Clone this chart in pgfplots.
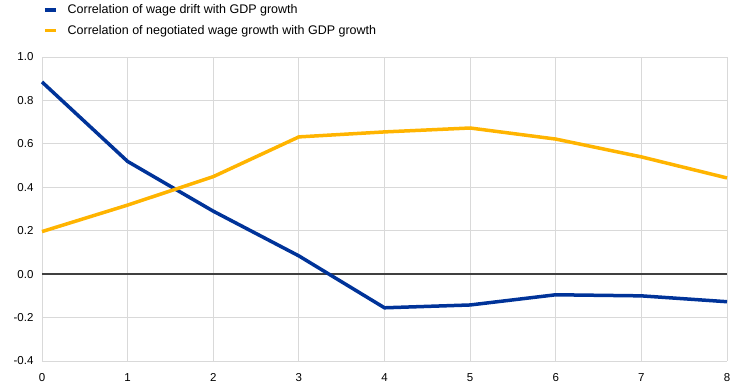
\documentclass[border=0pt]{standalone}
\usepackage{pgfplots}
\pgfplotsset{compat=1.18}
\usepackage{fontspec}
\setmainfont{Liberation Sans}
\definecolor{ecbblue}{HTML}{003399}
\definecolor{ecbyellow}{HTML}{FFB400}
\definecolor{gridgray}{HTML}{D9D9D9}
\definecolor{zerogray}{HTML}{404040}
\begin{document}
\begin{tikzpicture}[x=1pt,y=1pt]
\path[use as bounding box] (0,0) rectangle (744,390);
\begin{axis}[
  at={(42pt,29pt)}, anchor=south west,
  scale only axis, width=685pt, height=304pt,
  xmin=0, xmax=8, ymin=-0.4, ymax=1.0,
  xtick={0,...,8}, ytick={-0.4,-0.2,0,0.2,0.4,0.6,0.8,1.0},
  yticklabel style={/pgf/number format/fixed, /pgf/number format/fixed zerofill, /pgf/number format/precision=1, xshift=-5pt},
  /pgf/number format/assume math mode=true,
  ticklabel style={font=\fontsize{11.5}{13}\selectfont, text=black},
  grid=major, major grid style={gridgray, line width=0.8pt},
  axis line style={draw=none},
  tick style={draw=none},
  xticklabel style={yshift=-9pt},
  legend style={at={(0,1)}, anchor=south west, xshift=-2pt, yshift=17pt,
    draw=none, fill=none, font=\fontsize{12.5}{14}\selectfont,
    row sep=6pt, legend cell align=left},
  legend image code/.code={\draw[#1, line width=3.5pt] (0pt,0pt) -- (11pt,0pt); \path (19pt,0pt);},
  clip=false,
]
\addplot[zerogray, line width=1.5pt, forget plot] coordinates {(0,0) (8,0)};
\addplot[ecbblue, line width=3.5pt] coordinates {
(0,0.885) (1,0.519) (2,0.290) (3,0.084) (4,-0.155) (5,-0.142) (6,-0.095) (7,-0.100) (8,-0.127)};
\addlegendentry{Correlation of wage drift with GDP growth}
\addplot[ecbyellow, line width=3.5pt] coordinates {
(0,0.196) (1,0.318) (2,0.449) (3,0.632) (4,0.655) (5,0.673) (6,0.622) (7,0.540) (8,0.443)};
\addlegendentry{Correlation of negotiated wage growth with GDP growth}
\end{axis}
\end{tikzpicture}
\end{document}
